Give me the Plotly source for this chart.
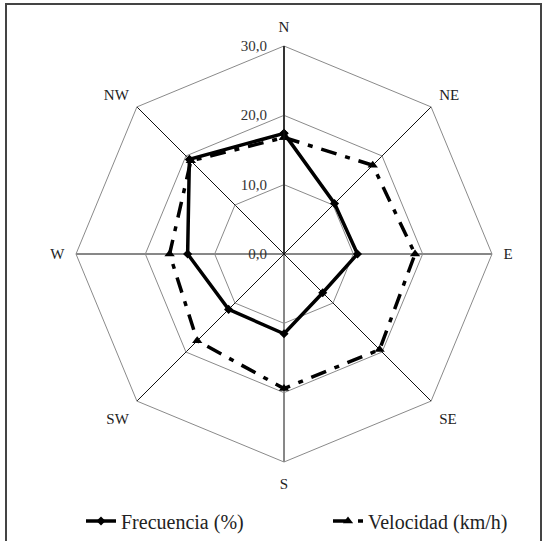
import plotly.graph_objects as go

directions = ["N", "NE", "E", "SE", "S", "SW", "W", "NW"]
frecuencia = [17.4, 10.3, 10.6, 7.9, 11.5, 11.3, 13.9, 19.3]
velocidad = [16.8, 18.1, 18.9, 19.5, 19.4, 17.7, 16.5, 19.0]
radial_ticks = [0, 10, 20, 30]
radial_labels = ["0,0", "10,0", "20,0", "30,0"]

W, H = 544, 541
cx, cy, R = 284, 254, 208

serif = "Liberation Serif"

fig = go.Figure()
fig.add_trace(go.Scatterpolar(
    r=velocidad + velocidad[:1], theta=directions + directions[:1],
    mode="lines+markers", name="Velocidad (km/h)", legend="legend2", showlegend=True,
    line=dict(color="black", width=3.5, dash="16px,9px,5px,9px"),
    marker=dict(symbol="triangle-up", size=9, color="black"),
))
fig.add_trace(go.Scatterpolar(
    r=frecuencia + frecuencia[:1], theta=directions + directions[:1],
    mode="lines+markers", name="Frecuencia (%)", legend="legend", showlegend=True,
    line=dict(color="black", width=3.5),
    marker=dict(symbol="diamond", size=7, color="black"),
))

legend_common = dict(
    orientation="h", y=(H - 521) / H, yanchor="middle", xanchor="left",
    font=dict(family=serif, size=20, color="#222"),
    bgcolor="rgba(0,0,0,0)", visible=True,
)

fig.update_layout(
    width=W, height=H,
    margin=dict(l=0, r=0, t=0, b=0),
    paper_bgcolor="white",
    showlegend=True,
    font=dict(family=serif, size=15, color="#222"),
    polar=dict(
        domain=dict(x=[(cx - R) / W, (cx + R) / W],
                    y=[(H - cy - R) / H, (H - cy + R) / H]),
        gridshape="linear",
        bgcolor="white",
        angularaxis=dict(
            direction="clockwise", rotation=90,
            categoryorder="array", categoryarray=directions,
            showline=True, linecolor="#8a8a8a", linewidth=1,
            showgrid=True, gridcolor="#111", gridwidth=1.4,
            ticks="outside", ticklen=8, tickcolor="rgba(0,0,0,0)",
            tickfont=dict(family=serif, size=15, color="#222"),
        ),
        radialaxis=dict(
            range=[0, 30], tickvals=radial_ticks, ticktext=radial_labels,
            angle=90, tickangle=90, side="counterclockwise",
            showline=True, linecolor="#111", linewidth=1.4,
            showgrid=True, gridcolor="#8a8a8a", gridwidth=1,
            ticks="outside", ticklen=11, tickcolor="rgba(0,0,0,0)",
            tickfont=dict(family=serif, size=15, color="#333"),
        ),
    ),
    legend=dict(x=81 / W, **legend_common),
    legend2=dict(x=328 / W, **legend_common),
    shapes=[dict(type="rect", xref="paper", yref="paper",
                 x0=6 / W, x1=541 / W, y0=-0.02, y1=(H - 4) / H,
                 line=dict(color="#444", width=2))],
)

fig.write_html("out.html", config={"displayModeBar": False},
               post_script="document.body.style.margin='0px';document.body.style.overflow='hidden';")
